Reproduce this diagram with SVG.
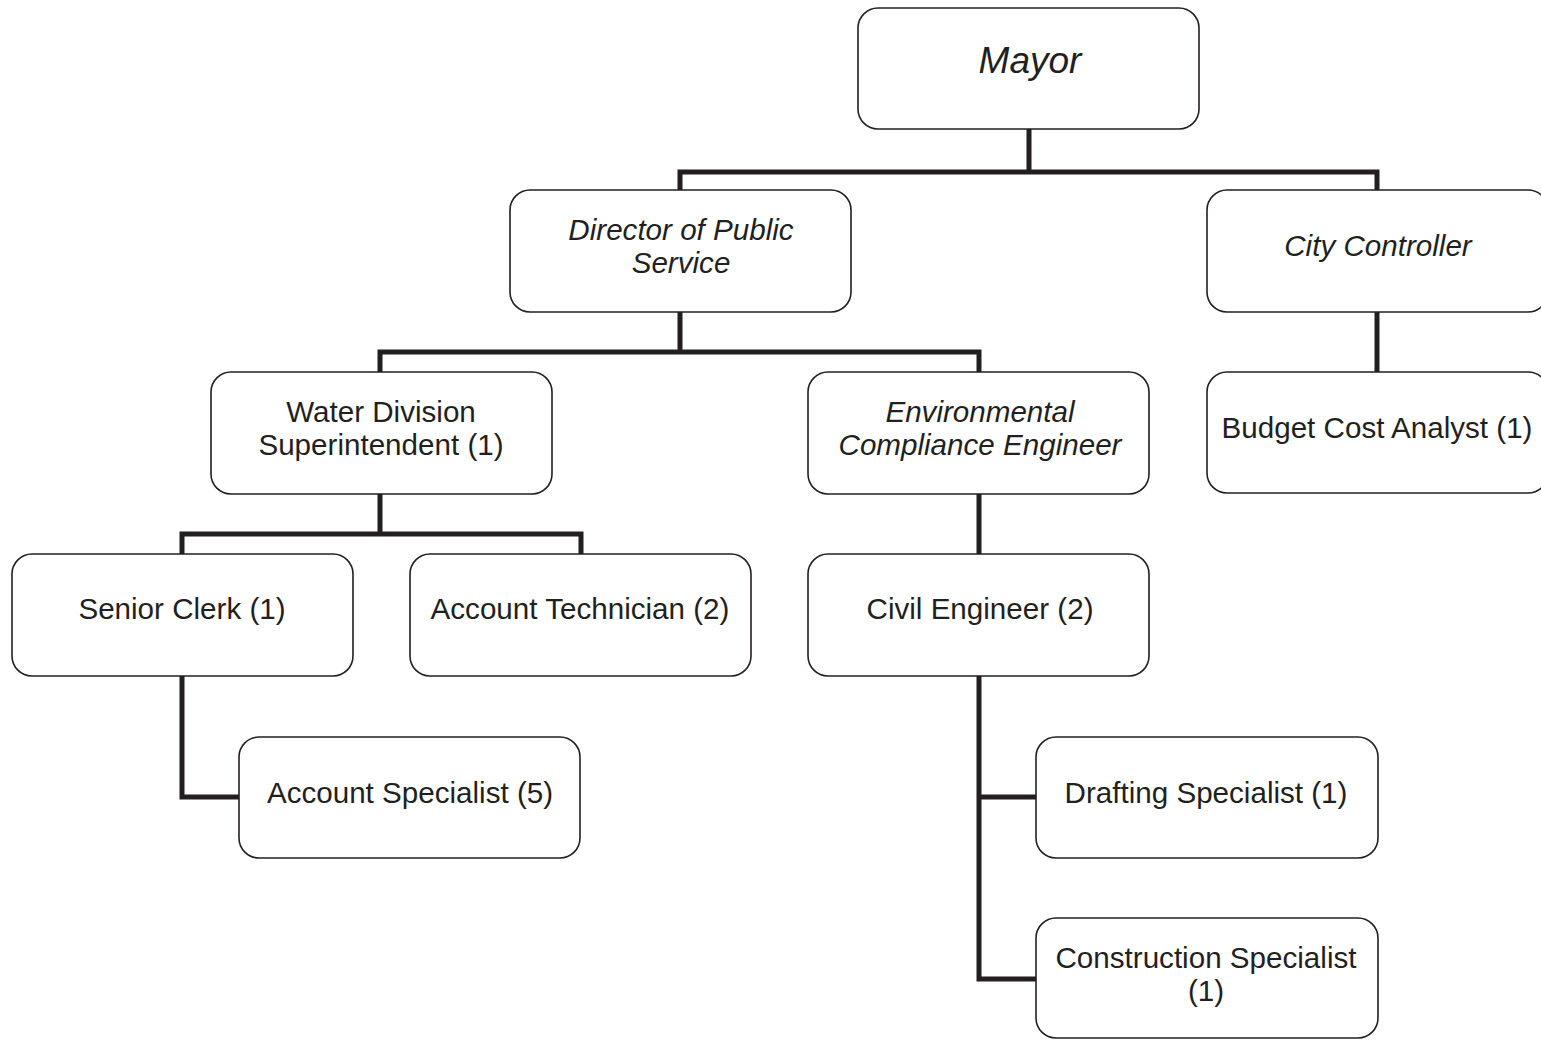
<svg xmlns="http://www.w3.org/2000/svg" width="1541" height="1040" viewBox="0 0 1541 1040">
  <style>
    .box { fill: #ffffff; stroke: #231f20; stroke-width: 1.6; }
    .lbl { font-family: "Liberation Sans", Arial, sans-serif; font-size: 29.6px; fill: #231f20; text-anchor: middle; }
    .it { font-style: italic; }
    .big { font-size: 37px; }
    .conn { fill: none; stroke: #231f20; stroke-width: 5; stroke-linejoin: miter; stroke-linecap: butt; }
  </style>
  <rect width="1541" height="1040" fill="#ffffff"/>

  <!-- reporting lines -->
  <g id="connectors">
    <path class="conn" d="M1029,129 V172 M680,190 V172 H1377 V190"/>
    <path class="conn" d="M680,312 V352 M380,372 V352 H979 V372"/>
    <path class="conn" d="M1377,312 V372"/>
    <path class="conn" d="M380,494 V534 M182,554 V534 H581 V554"/>
    <path class="conn" d="M979,494 V554"/>
    <path class="conn" d="M182,676 V797 H239"/>
    <path class="conn" d="M979,676 V979 H1036 M979,797 H1036"/>
  </g>

  <g id="mayor">
    <rect class="box" x="858" y="8" width="341" height="121" rx="20"/>
    <text class="lbl it big" x="1030" y="73">Mayor</text>
  </g>
  <g id="director-public-service">
    <rect class="box" x="510" y="190" width="341" height="122" rx="20"/>
    <text class="lbl it" x="681" y="240">Director of Public</text>
    <text class="lbl it" x="681" y="273">Service</text>
  </g>
  <g id="city-controller">
    <rect class="box" x="1207" y="190" width="341" height="122" rx="20"/>
    <text class="lbl it" x="1378" y="256">City Controller</text>
  </g>
  <g id="water-division-superintendent">
    <rect class="box" x="211" y="372" width="341" height="122" rx="20"/>
    <text class="lbl" x="381" y="422">Water Division</text>
    <text class="lbl" x="381" y="455">Superintendent (1)</text>
  </g>
  <g id="environmental-compliance-engineer">
    <rect class="box" x="808" y="372" width="341" height="122" rx="20"/>
    <text class="lbl it" x="980" y="422">Environmental</text>
    <text class="lbl it" x="980" y="455">Compliance Engineer</text>
  </g>
  <g id="budget-cost-analyst">
    <rect class="box" x="1207" y="372" width="341" height="121" rx="20"/>
    <text class="lbl" x="1377" y="438">Budget Cost Analyst (1)</text>
  </g>
  <g id="senior-clerk">
    <rect class="box" x="12" y="554" width="341" height="122" rx="20"/>
    <text class="lbl" x="182" y="619">Senior Clerk (1)</text>
  </g>
  <g id="account-technician">
    <rect class="box" x="410" y="554" width="341" height="122" rx="20"/>
    <text class="lbl" x="580" y="619">Account Technician (2)</text>
  </g>
  <g id="civil-engineer">
    <rect class="box" x="808" y="554" width="341" height="122" rx="20"/>
    <text class="lbl" x="980" y="619">Civil Engineer (2)</text>
  </g>
  <g id="account-specialist">
    <rect class="box" x="239" y="737" width="341" height="121" rx="20"/>
    <text class="lbl" x="410" y="803">Account Specialist (5)</text>
  </g>
  <g id="drafting-specialist">
    <rect class="box" x="1036" y="737" width="342" height="121" rx="20"/>
    <text class="lbl" x="1206" y="803">Drafting Specialist (1)</text>
  </g>
  <g id="construction-specialist">
    <rect class="box" x="1036" y="918" width="342" height="120" rx="20"/>
    <text class="lbl" x="1206" y="968">Construction Specialist</text>
    <text class="lbl" x="1206" y="1001">(1)</text>
  </g>
</svg>
